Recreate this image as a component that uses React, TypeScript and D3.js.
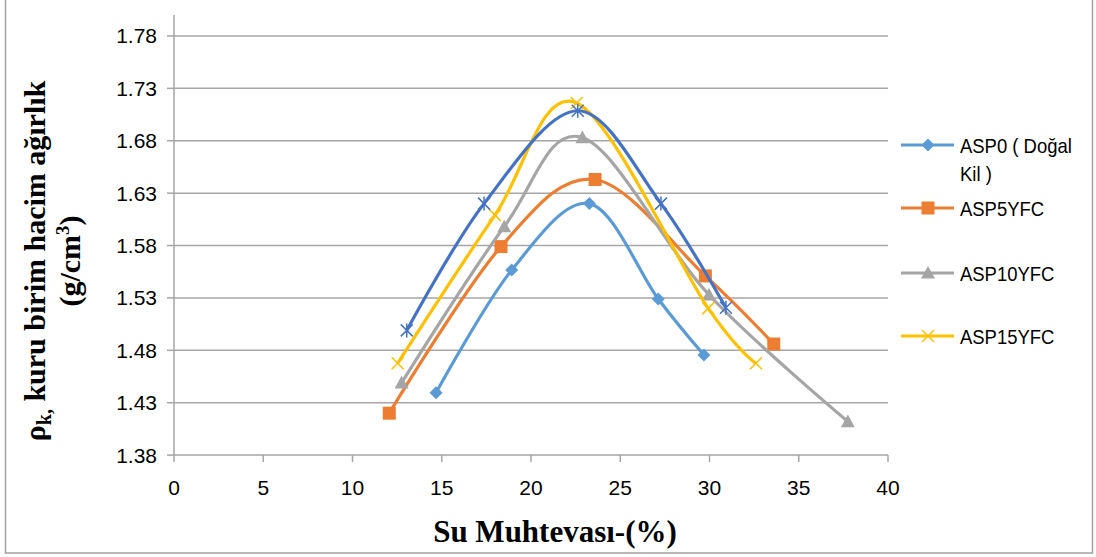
import React from "react";
import * as d3 from "d3";

const asp0X = [14.68, 18.92, 23.27, 27.13, 29.69];
const asp0Y = [1.4395, 1.5566, 1.62, 1.529, 1.4755];
const asp5X = [12.06, 18.32, 23.59, 29.77, 33.6];
const asp5Y = [1.42, 1.579, 1.643, 1.551, 1.486];
const asp10X = [12.75, 18.5, 22.88, 29.97, 37.75];
const asp10Y = [1.449, 1.598, 1.683, 1.533, 1.412];
const asp15X = [12.53, 17.98, 22.56, 29.93, 32.6];
const asp15Y = [1.4676, 1.609, 1.716, 1.52, 1.4676];
const extraX = [13.04, 17.37, 22.62, 27.28, 30.92];
const extraY = [1.499, 1.62, 1.7086, 1.62, 1.5206];

const xTicks = [0, 5, 10, 15, 20, 25, 30, 35, 40];
const yTicks = [1.38, 1.43, 1.48, 1.53, 1.58, 1.63, 1.68, 1.73, 1.78];

type Series = { name: string[]; xs: number[]; ys: number[]; color: string; marker: string; legend: boolean };

const series: Series[] = [
  { name: ["ASP0 ( Doğal", "Kil )"], xs: asp0X, ys: asp0Y, color: "#5B9BD5", marker: "diamond", legend: true },
  { name: ["ASP5YFC"], xs: asp5X, ys: asp5Y, color: "#ED7D31", marker: "square", legend: true },
  { name: ["ASP10YFC"], xs: asp10X, ys: asp10Y, color: "#A5A5A5", marker: "triangle", legend: true },
  { name: ["ASP15YFC"], xs: asp15X, ys: asp15Y, color: "#FFC000", marker: "x", legend: true },
  { name: [""], xs: extraX, ys: extraY, color: "#4472C4", marker: "star", legend: false },
];

const L = 174, R = 888, T = 15, B = 455.1;
const x = d3.scaleLinear().domain([0, 40]).range([L, R]);
const y = d3.scaleLinear().domain([1.38, 1.8]).range([B, T]);

function Marker({ type, cx, cy, color }: { type: string; cx: number; cy: number; color: string }) {
  if (type === "diamond") {
    const s = 6.5;
    return <path d={`M${cx},${cy - s}L${cx + s},${cy}L${cx},${cy + s}L${cx - s},${cy}Z`} fill={color} />;
  }
  if (type === "square") {
    const s = 6.5;
    return <rect x={cx - s} y={cy - s} width={2 * s} height={2 * s} fill={color} />;
  }
  if (type === "triangle") {
    const s = 7;
    return <path d={`M${cx},${cy - s}L${cx + s},${cy + s * 0.8}L${cx - s},${cy + s * 0.8}Z`} fill={color} />;
  }
  if (type === "x") {
    const s = 6;
    return (
      <path d={`M${cx - s},${cy - s}L${cx + s},${cy + s}M${cx - s},${cy + s}L${cx + s},${cy - s}`} stroke={color} strokeWidth={1.5} />
    );
  }
  const s = 6;
  return (
    <path
      d={`M${cx - s},${cy - s}L${cx + s},${cy + s}M${cx - s},${cy + s}L${cx + s},${cy - s}M${cx},${cy - s - 1}L${cx},${cy + s + 1}`}
      stroke={color}
      strokeWidth={1.5}
    />
  );
}

export default function App() {
  const line = d3
    .line<[number, number]>()
    .x((d) => x(d[0]))
    .y((d) => y(d[1]))
    .curve(d3.curveCardinal.tension(0));

  const legendY = [145, 208, 273, 336];
  const gridColor = "#A6A6A6";
  const font = "'Liberation Sans', Arial, sans-serif";
  const serif = "'Liberation Serif', 'Times New Roman', serif";

  return (
    <svg width={1096} height={557} style={{ position: "absolute", left: 0, top: 0, background: "#fff" }}>
      <rect x={5.5} y={-5} width={1087} height={558} fill="#fff" stroke="#A0A0A0" strokeWidth={1.5} />
      {yTicks.map((t) => (
        <g key={t}>
          {t > 1.38 && <line x1={L} x2={R} y1={y(t)} y2={y(t)} stroke={gridColor} strokeWidth={1.5} />}
          <line x1={L - 7} x2={L} y1={y(t)} y2={y(t)} stroke={gridColor} strokeWidth={1.5} />
          <text x={L - 17} y={y(t) + 7.5} textAnchor="end" fontFamily={font} fontSize={21} fill="#000">
            {t.toFixed(2)}
          </text>
        </g>
      ))}
      <line x1={L} x2={L} y1={T} y2={B} stroke={gridColor} strokeWidth={1.5} />
      <line x1={L} x2={R} y1={B} y2={B} stroke={gridColor} strokeWidth={1.5} />
      {xTicks.map((t) => (
        <g key={t}>
          <line x1={x(t)} x2={x(t)} y1={B} y2={B + 7} stroke={gridColor} strokeWidth={1.5} />
          <text x={x(t)} y={B + 40} textAnchor="middle" fontFamily={font} fontSize={21} fill="#000">
            {t}
          </text>
        </g>
      ))}
      {series.map((s, i) => {
        const pts = s.xs.map((v, j) => [v, s.ys[j]] as [number, number]);
        return (
          <g key={i}>
            <path d={line(pts) || ""} fill="none" stroke={s.color} strokeWidth={3.2} />
            {pts.map((p, j) => (
              <Marker key={j} type={s.marker} cx={x(p[0])} cy={y(p[1])} color={s.color} />
            ))}
          </g>
        );
      })}
      {series
        .filter((s) => s.legend)
        .map((s, i) => (
          <g key={i}>
            <line x1={901} x2={954} y1={legendY[i]} y2={legendY[i]} stroke={s.color} strokeWidth={3.2} />
            <Marker type={s.marker} cx={928} cy={legendY[i]} color={s.color} />
            {s.name.map((n, k) => (
              <g key={k} transform={`translate(960,${legendY[i] + 7.5 + k * 28}) scale(0.9,1)`}>
                <text x={0} y={0} fontFamily={font} fontSize={20.5} fill="#000">
                  {n}
                </text>
              </g>
            ))}
          </g>
        ))}
      <text x={555} y={542} textAnchor="middle" fontFamily={serif} fontWeight="bold" fontSize={31} fill="#000">
        Su Muhtevası-(%)
      </text>
      <g transform="translate(45,261) rotate(-90)">
        <text x={0} y={0} textAnchor="middle" fontFamily={serif} fontWeight="bold" fontSize={30} fill="#000">
          ρ<tspan fontSize={20} dy={6}>k,</tspan>
          <tspan dy={-6}> kuru birim hacim ağırlık</tspan>
        </text>
        <text x={0} y={35} textAnchor="middle" fontFamily={serif} fontWeight="bold" fontSize={30} fill="#000">
          (g/cm<tspan fontSize={19} dy={-11}>3</tspan>
          <tspan dy={11}>)</tspan>
        </text>
      </g>
    </svg>
  );
}
